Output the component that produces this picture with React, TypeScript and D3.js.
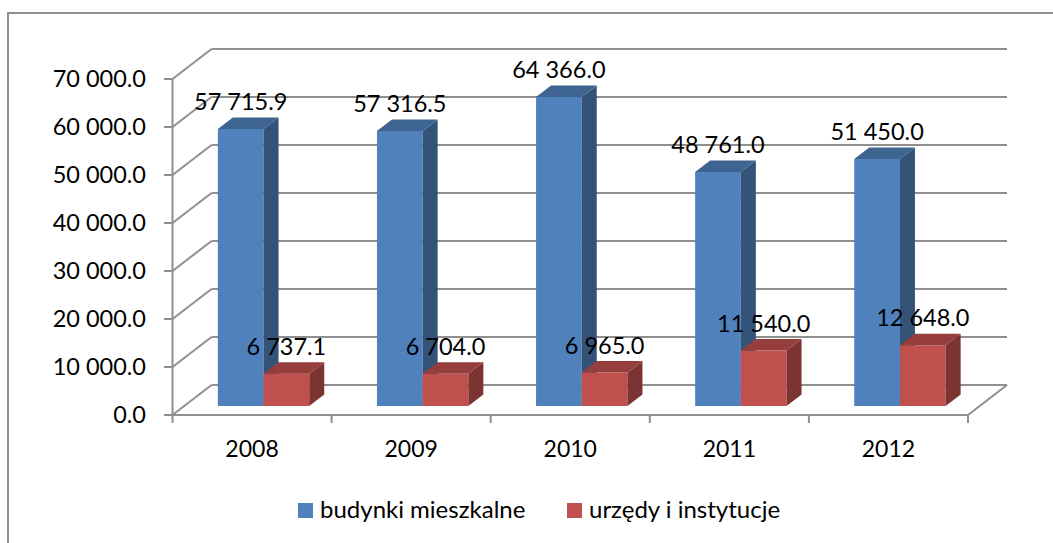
import React from "react";
import * as d3 from "d3";

const years = ["2008", "2009", "2010", "2011", "2012"];
const residential = [57715.9, 57316.5, 64366.0, 48761.0, 51450.0];
const offices = [6737.1, 6704.0, 6965.0, 11540.0, 12648.0];
const residentialLabels = ["57 715.9", "57 316.5", "64 366.0", "48 761.0", "51 450.0"];
const officeLabels = ["6 737.1", "6 704.0", "6 965.0", "11 540.0", "12 648.0"];
const yTicks = [0, 10000, 20000, 30000, 40000, 50000, 60000, 70000];
const yTickLabels = ["0.0", "10 000.0", "20 000.0", "30 000.0", "40 000.0", "50 000.0", "60 000.0", "70 000.0"];
const seriesNames = ["budynki mieszkalne", "urzędy i instytucje"];

const FONT = "Lato, 'Open Sans', sans-serif";
const GRID = "#8f8f8f";
const BLUE = { front: "#4f81bd", side: "#345378", top: "#3e6592" };
const RED = { front: "#c0504d", side: "#7b3431", top: "#953e3b" };

const y = d3.scaleLinear().domain([0, 70000]).range([415, 79]);
const x = d3.scaleBand().domain(years).range([172.5, 968]);
const wallDx = 39, wallDy = -30;
const barShiftX = 11.5, barShiftY = -9;
const barW = 45.7, depthX = 15, depthY = -11.5;

function Bar3D({ x0, v, c }: { x0: number; v: number; c: typeof BLUE }) {
  const top = y(v) + barShiftY;
  const base = y(0) + barShiftY;
  const pts = (p: number[][]) => p.map((q) => q.join(",")).join(" ");
  return (
    <g>
      <rect x={x0} y={top} width={barW} height={base - top} fill={c.front} />
      <polygon points={pts([[x0 + barW, top], [x0 + barW + depthX, top + depthY], [x0 + barW + depthX, base + depthY], [x0 + barW, base]])} fill={c.side} />
      <polygon points={pts([[x0, top], [x0 + depthX, top + depthY], [x0 + barW + depthX, top + depthY], [x0 + barW, top]])} fill={c.top} />
    </g>
  );
}

export default function App() {
  const [x1, x2] = x.range();
  const barX = (yr: string) => (x(yr) as number) + (x.bandwidth() - 2 * barW) / 2 + barShiftX;
  return (
    <svg width={1053} height={543} style={{ position: "absolute", left: 0, top: 0, background: "#fff" }} fontFamily={FONT}>
      <path d="M8,543V13H1053" fill="none" stroke={GRID} strokeWidth={2} />
      {yTicks.map((t) => (
        <g key={t} stroke={GRID} strokeWidth={2} fill="none">
          <line x1={164} x2={x1} y1={y(t)} y2={y(t)} />
          <line x1={x1} y1={y(t)} x2={x1 + wallDx} y2={y(t) + wallDy} />
          <line x1={x1 + wallDx} x2={x2 + wallDx} y1={y(t) + wallDy} y2={y(t) + wallDy} />
        </g>
      ))}
      <g stroke={GRID} strokeWidth={2} fill="none">
        <line x1={x1} x2={x1} y1={y(70000)} y2={423} />
        <line x1={x1} x2={x2} y1={y(0)} y2={y(0)} />
        <line x1={x2} y1={y(0)} x2={x2 + wallDx} y2={y(0) + wallDy} />
        {years.map((yr) => (
          <line key={yr} x1={(x(yr) as number) + x.bandwidth()} x2={(x(yr) as number) + x.bandwidth()} y1={415} y2={423} />
        ))}
      </g>
      {years.map((yr, i) => (
        <g key={yr}>
          <Bar3D x0={barX(yr)} v={residential[i]} c={BLUE} />
          <Bar3D x0={barX(yr) + barW} v={offices[i]} c={RED} />
        </g>
      ))}
      {yTicks.map((t, i) => (
        <text key={t} x={146} y={y(t) + 8} textAnchor="end" fontSize={23.5} fill="#000">{yTickLabels[i]}</text>
      ))}
      {years.map((yr) => (
        <text key={yr} x={(x(yr) as number) + x.bandwidth() / 2} y={457} textAnchor="middle" fontSize={23} fill="#000">{yr}</text>
      ))}
      {years.map((yr, i) => (
        <g key={yr} fontSize={23.5} textAnchor="middle" fill="#000">
          <text x={barX(yr) + barW / 2} y={y(residential[i]) + barShiftY - 19}>{residentialLabels[i]}</text>
          <text x={barX(yr) + barW * 1.5} y={y(offices[i]) + barShiftY - 19}>{officeLabels[i]}</text>
        </g>
      ))}
      <rect x={298} y={503} width={15} height={15} fill={BLUE.front} />
      <text x={320} y={518} fontSize={24} fill="#000">{seriesNames[0]}</text>
      <rect x={567} y={503} width={15} height={15} fill={RED.front} />
      <text x={589} y={518} fontSize={24} fill="#000">{seriesNames[1]}</text>
    </svg>
  );
}
